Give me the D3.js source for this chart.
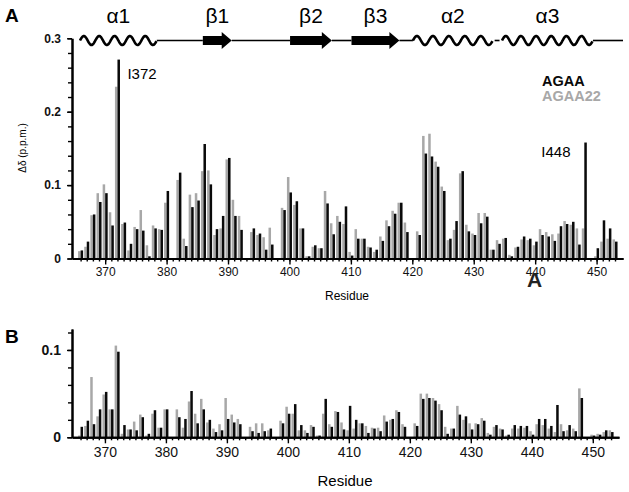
<!DOCTYPE html>
<html><head><meta charset="utf-8">
<script src="https://cdn.jsdelivr.net/npm/d3@7/dist/d3.min.js"></script>
<style>
body{margin:0;background:#fff}
svg{display:block}
text{font-family:"Liberation Sans",Arial,Helvetica,sans-serif}
</style></head>
<body><svg id="c" width="629" height="492"></svg>
<script>
// ---------- data ----------
const residues = d3.range(366, 454);
// Panel A (gray = AGAA22, black = AGAA)
const aAGAA22 = [0.010,0.016,0.059,0.089,0.101,0.063,0.234,0.047,0.011,0.043,0.066,0.018,0.045,0.040,0.076,0,
 0.107,0.027,0.087,0.089,0.119,0.120,0.032,0.041,0.135,0.080,0.058,0,0.036,0.032,0.029,0.042,0,
 0.069,0.111,0.073,0.041,0.003,0.016,0.014,0.092,0.048,0.058,0.047,0.009,0.040,0.027,0.016,0.009,0.030,
 0.052,0.065,0.076,0.049,0,0.037,0.167,0.170,0.132,0.098,0.025,0.039,0.116,0.046,0.034,0.062,0.062,
 0.012,0.025,0.027,0.005,0.015,0.026,0.025,0.018,0.040,0.036,0.033,0.034,0.051,0.046,0.041,0.041,0,
 0.003,0.023,0.027,0.026];
const aAGAA = [0.011,0.023,0.060,0.077,0.089,0.045,0.271,0.049,0.020,0.040,0.038,0.003,0.041,0.039,0.092,0,
 0.117,0.017,0.070,0.079,0.156,0.101,0.040,0.058,0.137,0.058,0.039,0,0.041,0.034,0.012,0.019,0,
 0.066,0.090,0.078,0.041,0.003,0.018,0.014,0.075,0.033,0.050,0.071,0.004,0.027,0.027,0.015,0.012,0.024,
 0.044,0.061,0.076,0.036,0,0.032,0.143,0.139,0.125,0.092,0.027,0.051,0.119,0.037,0.032,0.048,0.057,
 0.012,0.020,0.028,0.003,0.016,0.030,0.027,0.023,0.032,0.030,0.024,0.044,0.047,0.050,0.019,0.158,0,
 0.014,0.052,0.041,0.023];
// Panel B
const bAGAA22 = [0.002,0.013,0.069,0.024,0.049,0.032,0.105,0.004,0.009,0.018,0.026,0.002,0.027,0.011,0.032,0,
 0.032,0.011,0.041,0.027,0.044,0.017,0.010,0.015,0.045,0.026,0.021,0,0.012,0.016,0.016,0.008,0,
 0.019,0.035,0.027,0.008,0.008,0.014,0.002,0.027,0.015,0.030,0.017,0.008,0.010,0.016,0.013,0.011,0.011,
 0.025,0.020,0.031,0.015,0,0.016,0.050,0.050,0.045,0.038,0.012,0.010,0.036,0.020,0.016,0.016,0.022,
 0.005,0.012,0.010,0.002,0.010,0.010,0.011,0.007,0.015,0.014,0.010,0.006,0.015,0.008,0.010,0.056,0,
 0.003,0.004,0.006,0.008];
const bAGAA = [0.012,0.019,0.015,0.032,0.052,0.032,0.098,0.014,0.009,0.008,0.023,0.004,0.031,0.011,0.032,0,
 0.023,0.021,0.053,0.016,0.032,0.020,0.006,0.008,0.021,0.017,0.015,0,0.007,0.005,0.007,0.010,0,
 0.016,0.027,0.038,0.014,0.005,0.012,0.002,0.044,0.012,0.029,0.009,0.036,0.020,0.016,0.005,0.010,0.007,
 0.018,0.021,0.029,0.012,0,0.013,0.044,0.045,0.042,0.031,0.004,0.010,0.026,0.024,0.009,0.015,0.019,
 0.003,0.014,0.009,0.003,0.014,0.013,0.013,0.003,0.021,0.021,0.013,0.037,0.007,0.014,0.007,0.045,0,
 0.002,0.003,0.008,0.006];
const xTickLabels = [370,380,390,400,410,420,430,440,450];
const aYTickLabels = [0,0.1,0.2,0.3];
const bYTickLabels = [0,0.1];
const seriesNames = ["AGAA","AGAA22"];
// secondary structure (residue ranges)
const helices = [{from:365.9,to:378.4,label:"α1"},{from:420.1,to:433.1,label:"α2"},{from:434.6,to:449.4,label:"α3"}];
const strands = [{from:385.9,to:390.6,label:"β1"},{from:400.1,to:406.9,label:"β2"},{from:410.1,to:417.9,label:"β3"}];
const coils = [[378.4,385.9],[390.6,400.1],[406.9,410.1],[417.9,420.1],[433.4,434.2],[449.4,454.3]];

const GRAY = "#a8a8a8", BLACK = "#0a0a0a";
const svg = d3.select("#c");

function panel(opt){
  const x = d3.scaleLinear().domain([364.6,454.3]).range(opt.xr);
  const y = d3.scaleLinear().domain(opt.yd).range(opt.yr);
  const g = svg.append("g");
  const step = x(371)-x(370), bw = step*0.41;
  g.selectAll(".g").data(residues).join("rect")
    .attr("x", d=>x(d)-bw).attr("width", bw)
    .attr("y", (d,i)=>y(opt.gray[i])).attr("height",(d,i)=>y(0)-y(opt.gray[i]))
    .attr("fill", GRAY);
  g.selectAll(".b").data(residues).join("rect")
    .attr("x", d=>x(d)).attr("width", bw)
    .attr("y", (d,i)=>y(opt.black[i])).attr("height",(d,i)=>y(0)-y(opt.black[i]))
    .attr("fill", BLACK);
  const y0 = y(0);
  const xm = g.append("g").attr("transform",`translate(0,${y0})`)
    .call(d3.axisBottom(x).tickValues(residues).tickSize(opt.minor).tickSizeOuter(0).tickFormat(""));
  const xM = g.append("g").attr("transform",`translate(0,${y0})`)
    .call(d3.axisBottom(x).tickValues(xTickLabels).tickSize(opt.major).tickSizeOuter(0).tickPadding(opt.xpad).tickFormat(d3.format("d")));
  xM.selectAll("text").attr("font-size",opt.xfs).attr("fill","#111");
  const ym = g.append("g").attr("transform",`translate(${opt.xr[0]},0)`)
    .call(d3.axisLeft(y).tickValues(d3.range(0, opt.yd[1]+1e-9, 0.02)).tickSize(4).tickSizeOuter(0).tickFormat(""));
  const yM = g.append("g").attr("transform",`translate(${opt.xr[0]},0)`)
    .call(d3.axisLeft(y).tickValues(opt.yt).tickSize(5).tickSizeOuter(0).tickPadding(6).tickFormat(d=>d===0?"0":d3.format(".1f")(d)));
  yM.selectAll("text").attr("font-size",opt.yfs).attr("font-weight","bold").attr("fill","#111");
  [xm,xM,ym,yM].forEach(a=>{a.selectAll("line").attr("stroke","#000").attr("stroke-width",1.4);
    a.select(".domain").attr("stroke","#000").attr("stroke-width",2);});
  g.append("text").attr("x",opt.resX).attr("y",opt.resY).attr("text-anchor","middle")
    .attr("font-size",opt.resFs).text("Residue");
  return {x,y};
}

const A = panel({xr:[72,623], yd:[0,0.3], yr:[258.5,38.3], gray:aAGAA22, black:aAGAA, yt:aYTickLabels,
  minor:3, major:6, xpad:3, xfs:12, yfs:12, resX:347, resY:300, resFs:12});
const B = panel({xr:[72,619], yd:[0,0.124], yr:[437.3,329], gray:bAGAA22, black:bAGAA, yt:bYTickLabels,
  minor:3, major:6, xpad:4, xfs:14, yfs:14, resX:345, resY:486, resFs:15});

svg.append("text").attr("x",5).attr("y",22).attr("font-size",19).attr("font-weight","bold").text("A");
svg.append("text").attr("x",5).attr("y",343).attr("font-size",19).attr("font-weight","bold").text("B");
svg.append("text").attr("transform","translate(26,148) rotate(-90)").attr("text-anchor","middle")
  .attr("font-size",10).text("Δδ (p.p.m.)");

svg.append("text").attr("x",A.x(372)+10).attr("y",79).attr("font-size",15).text("I372");
svg.append("text").attr("x",A.x(448)-43).attr("y",157).attr("font-size",15).text("I448");
svg.append("text").attr("x",527).attr("y",287).attr("font-size",21).attr("font-weight","bold").attr("fill","#222").text("A");

svg.append("text").attr("x",542).attr("y",86).attr("font-size",14.5).attr("font-weight","bold").attr("fill",BLACK).text(seriesNames[0]);
svg.append("text").attr("x",542).attr("y",101).attr("font-size",14.5).attr("font-weight","bold").attr("fill",GRAY).text(seriesNames[1]);

const sy = 40.5, sx = A.x;
const ss = svg.append("g");
coils.forEach(c=>ss.append("line").attr("x1",sx(c[0])).attr("x2",sx(c[1])).attr("y1",sy).attr("y2",sy)
  .attr("stroke","#000").attr("stroke-width",1.6));
helices.forEach(h=>{
  const x0 = sx(h.from), x1 = sx(h.to), n = Math.max(2, Math.round((x1-x0)/16));
  const per = (x1-x0)/n;
  const pts = d3.range(0, x1-x0+0.01, 0.5).map(t=>[x0+t, sy - 4.5*Math.sin(2*Math.PI*t/per)]);
  ss.append("path").attr("d", d3.line()(pts)).attr("fill","none").attr("stroke","#000").attr("stroke-width",2.6);
  ss.append("text").attr("x",(x0+x1)/2).attr("y",23).attr("text-anchor","middle").attr("font-size",21).text(h.label);
});
strands.forEach(s=>{
  const x0 = sx(s.from), x1 = sx(s.to), hl = 10;
  const p = [[x0,sy-4.5],[x1-hl,sy-4.5],[x1-hl,sy-8.5],[x1,sy],[x1-hl,sy+8.5],[x1-hl,sy+4.5],[x0,sy+4.5]];
  ss.append("path").attr("d", d3.line()(p)+"Z").attr("fill","#000");
  ss.append("text").attr("x",(x0+x1)/2).attr("y",23).attr("text-anchor","middle").attr("font-size",21).text(s.label);
});
</script></body></html>
